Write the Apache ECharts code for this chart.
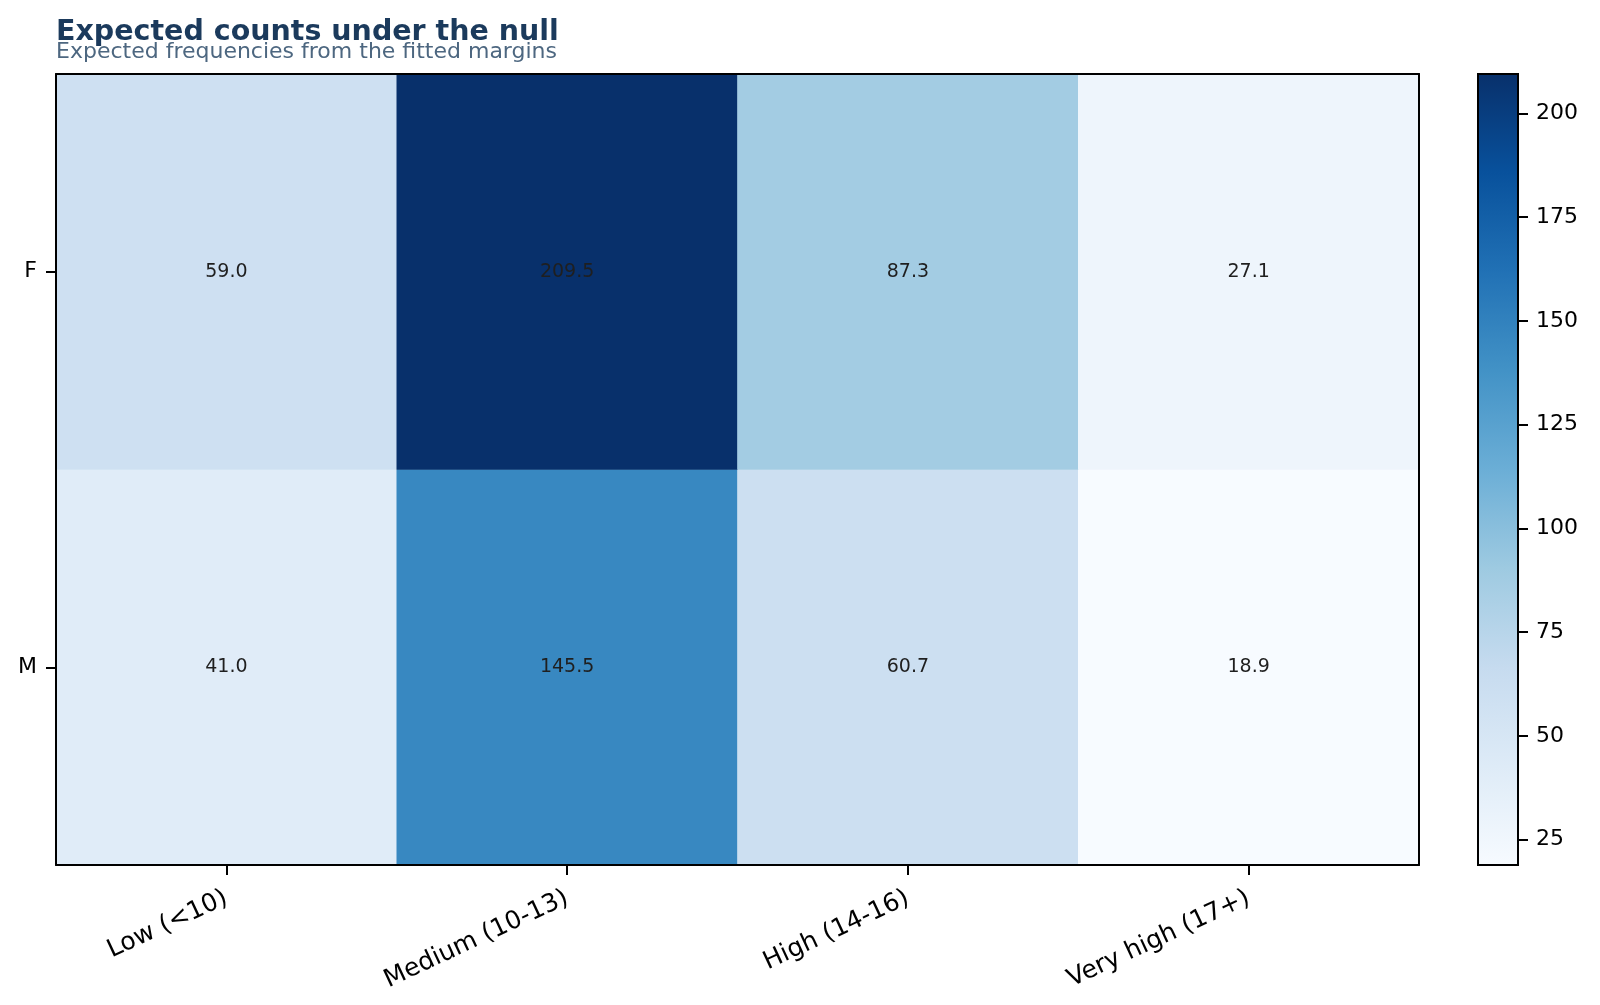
<!DOCTYPE html>
<html>
<head>
<meta charset="utf-8">
<title>Expected counts under the null</title>
<script src="https://cdn.jsdelivr.net/npm/echarts@6/dist/echarts.min.js"></script>
<style>
  html, body { margin: 0; padding: 0; background: #fff; }
  #chart { width: 1600px; height: 1005px; }
</style>
</head>
<body>
<div id="chart"></div>
<script>
// categories
const scoreBands = ['Low (<10)', 'Medium (10-13)', 'High (14-16)', 'Very high (17+)'];
const sexes = ['M', 'F'];          // bottom to top
// expected counts per row
const countsF = [59.0, 209.5, 87.3, 27.1];
const countsM = [41.0, 145.5, 60.7, 18.9];
const colorbarTicks = [25, 50, 75, 100, 125, 150, 175, 200];

// matplotlib "Blues"
const blues = ['#f7fbff', '#deebf7', '#c6dbef', '#9ecae1', '#6baed6',
               '#4292c6', '#2171b5', '#08519c', '#08306b'];

const FONT = 'DejaVu Sans';
const TICK_FS = 22;

let cells = [];
countsM.forEach((v, i) => cells.push([i, 0, v]));
countsF.forEach((v, i) => cells.push([i, 1, v]));

const allVals = countsF.concat(countsM);
const vmin = Math.min(...allVals);
const vmax = Math.max(...allVals);

// top of bar = darkest
const gradStops = blues.map((c, i) => ({ offset: 1 - i / (blues.length - 1), color: c })).reverse();

const chart = echarts.init(document.getElementById('chart'), null, { renderer: 'canvas' });

const spine = { show: true, lineStyle: { color: '#000', width: 2 } };

const option = {
    animation: false,
    backgroundColor: '#fff',
    textStyle: { fontFamily: FONT },
    title: [
        {
            text: 'Expected counts under the null',
            left: 56, top: 18, padding: 0,
            textStyle: { fontFamily: FONT, fontSize: 28.5, fontWeight: 'bold', color: '#1b3a5c' }
        },
        {
            text: 'Expected frequencies from the fitted margins',
            left: 56, top: 41, padding: 0,
            textStyle: { fontFamily: FONT, fontSize: 22, fontWeight: 'normal', color: '#4d6780' }
        }
    ],
    grid: [
        { left: 56, right: 181, top: 74, bottom: 140 },
        { left: 1478, width: 40, top: 74, bottom: 140 }
    ],
    visualMap: {
        show: false,
        seriesIndex: 0,
        min: vmin, max: vmax,
        dimension: 2,
        inRange: { color: blues }
    },
    xAxis: [
        {
            type: 'category', data: scoreBands, gridIndex: 0, z: 10,
            axisLine: spine,
            axisTick: { show: true, alignWithLabel: true, length: 10, lineStyle: { color: '#000', width: 2 } },
            axisLabel: { rotate: 25, fontSize: 25, color: '#000', margin: 32, fontFamily: FONT },
            splitLine: { show: false }
        },
        {
            type: 'category', data: scoreBands, gridIndex: 0, position: 'top', z: 10,
            axisLine: spine,
            axisTick: { show: false }, axisLabel: { show: false }
        },
        {
            type: 'category', data: ['cb'], gridIndex: 1,
            axisLine: { show: false }, axisTick: { show: false }, axisLabel: { show: false }
        }
    ],
    yAxis: [
        {
            type: 'category', data: sexes, gridIndex: 0, z: 10,
            axisLine: spine,
            axisTick: { show: true, alignWithLabel: true, length: 10, lineStyle: { color: '#000', width: 2 } },
            axisLabel: { fontSize: TICK_FS, color: '#000', margin: 19, fontFamily: FONT },
            splitLine: { show: false }
        },
        {
            type: 'category', data: sexes, gridIndex: 0, position: 'right', z: 10,
            axisLine: spine,
            axisTick: { show: false }, axisLabel: { show: false }
        },
        {
            type: 'value', gridIndex: 1, position: 'right',
            min: vmin, max: vmax,
            axisLine: { show: false },
            axisTick: { show: true, length: 10, lineStyle: { color: '#000', width: 2 }, customValues: colorbarTicks },
            axisLabel: { fontSize: TICK_FS, color: '#000', margin: 18, fontFamily: FONT, customValues: colorbarTicks },
            splitLine: { show: false }
        }
    ],
    series: [
        {
            type: 'heatmap',
            xAxisIndex: 0, yAxisIndex: 0,
            data: cells,
            label: {
                show: true,
                formatter: p => p.value[2].toFixed(1),
                fontSize: 19, color: '#1f1f1f', fontFamily: FONT
            },
            itemStyle: { borderWidth: 0 },
            emphasis: { disabled: true }
        },
        {
            type: 'custom',
            xAxisIndex: 2, yAxisIndex: 2,
            data: [[0, vmin, vmax]],
            renderItem: (params, api) => {
                const top = api.coord([api.value(0), api.value(2)]);
                const bot = api.coord([api.value(0), api.value(1)]);
                const w = api.size([1, 0])[0];
                return {
                    type: 'rect',
                    shape: { x: top[0] - w / 2, y: top[1], width: w, height: bot[1] - top[1] },
                    style: {
                        fill: new echarts.graphic.LinearGradient(0, 0, 0, 1, gradStops),
                        stroke: '#000', lineWidth: 2
                    }
                };
            },
            silent: true
        }
    ]
};

chart.setOption(option);
</script>
</body>
</html>
